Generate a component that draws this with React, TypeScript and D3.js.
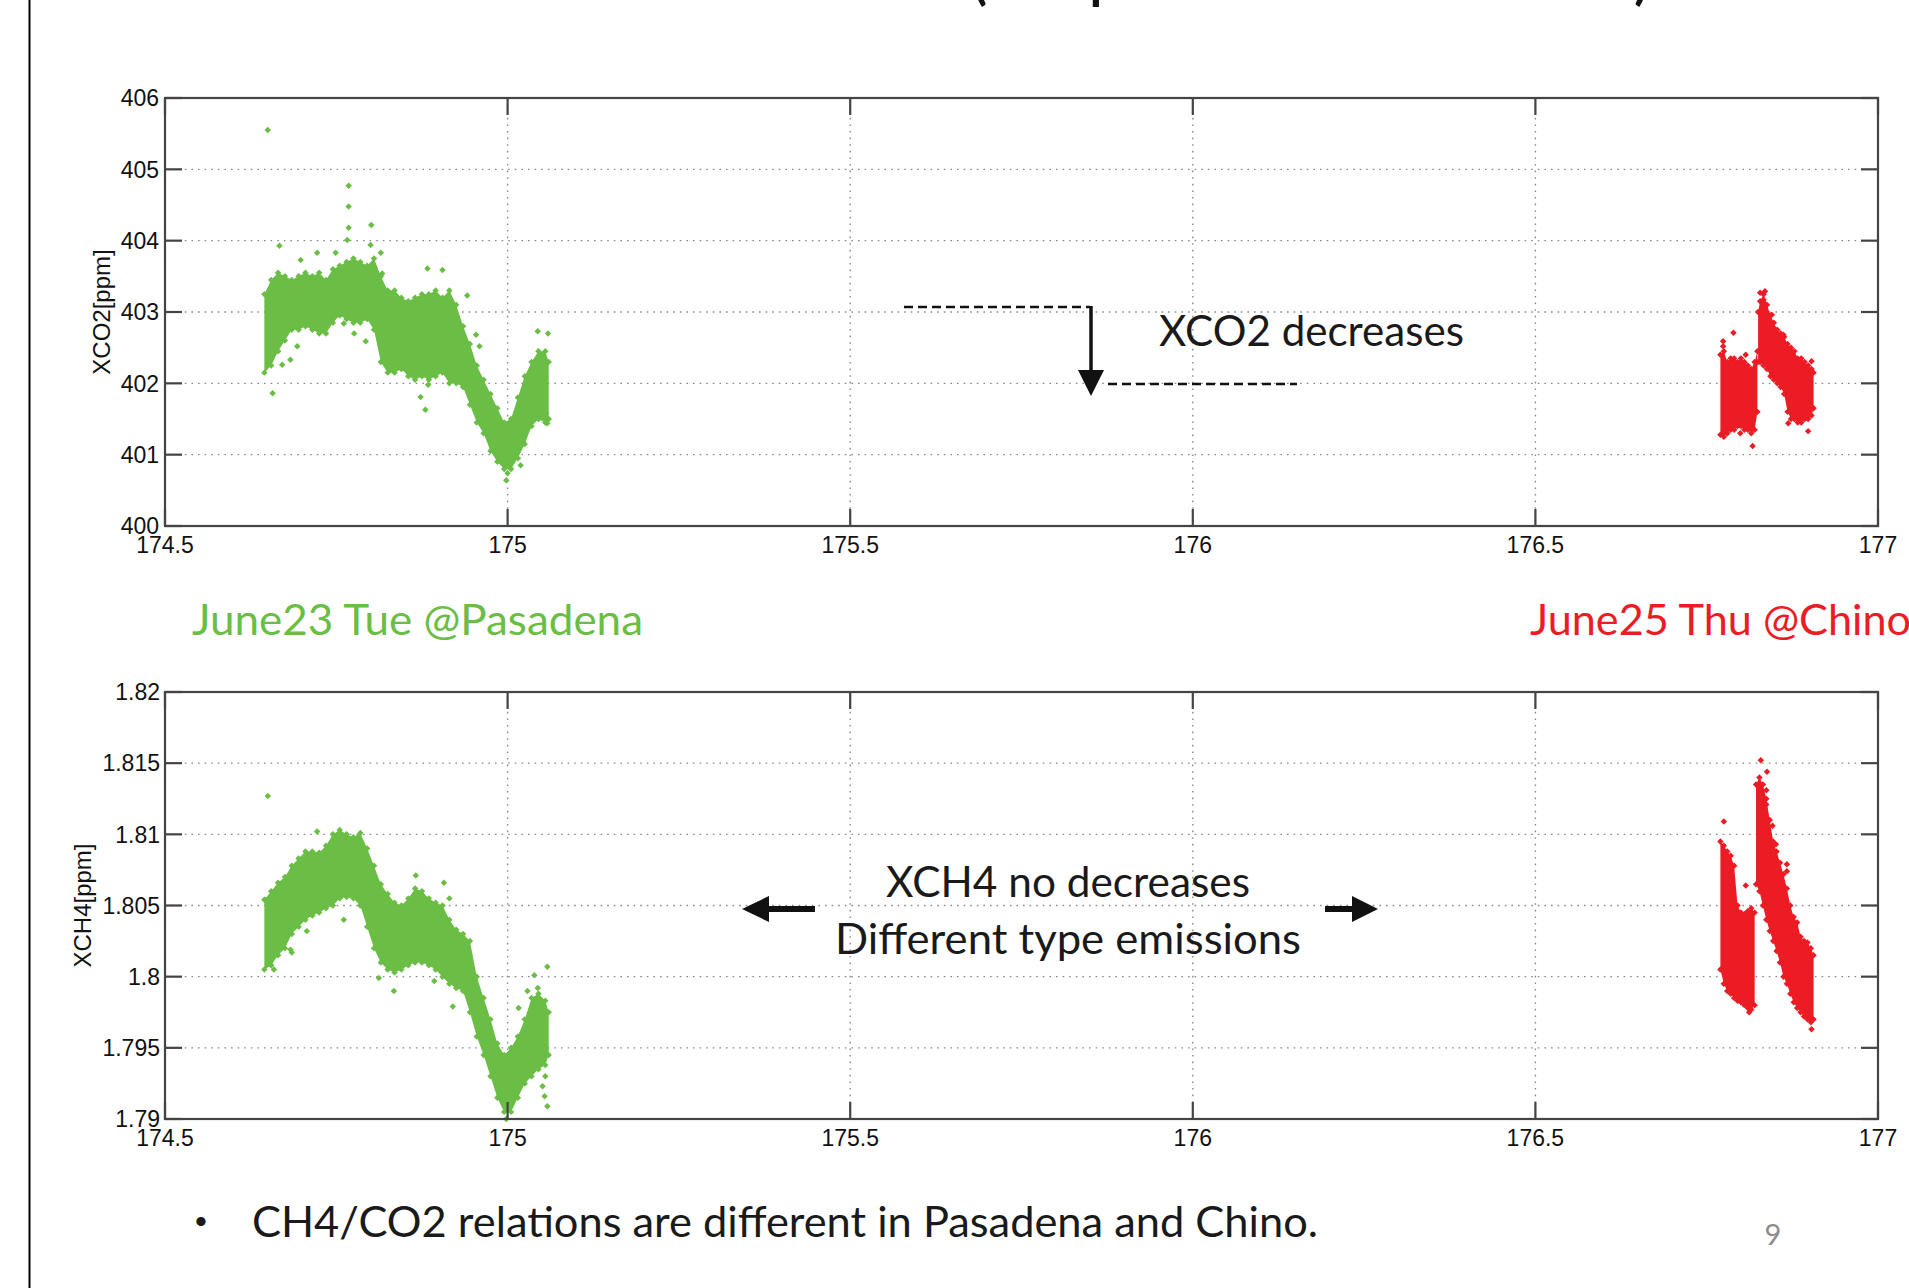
import React from 'react';
import * as d3 from 'd3';

const W = 1909;
const H = 1288;
const GREEN = '#6abd45';
const RED = '#ec1c24';

// ---------- axes ----------
const xDomain = [174.5, 177];
const xTicks = [174.5, 175, 175.5, 176, 176.5, 177];
const xTickLabels = ['174.5', '175', '175.5', '176', '176.5', '177'];
const co2Domain = [400, 406];
const co2Ticks = [400, 401, 402, 403, 404, 405, 406];
const co2TickLabels = ['400', '401', '402', '403', '404', '405', '406'];
const ch4Domain = [1.79, 1.82];
const ch4Ticks = [1.79, 1.795, 1.8, 1.805, 1.81, 1.815, 1.82];
const ch4TickLabels = ['1.79', '1.795', '1.8', '1.805', '1.81', '1.815', '1.82'];

// ---------- XCO2, Pasadena (June 23): dense band [day, low, high] ----------
const co2PasadenaBand = [
  [174.645, 402.15, 403.25], [174.655, 402.25, 403.45], [174.665, 402.45, 403.55],
  [174.675, 402.6, 403.5], [174.685, 402.75, 403.45], [174.695, 402.75, 403.5],
  [174.705, 402.8, 403.55], [174.715, 402.75, 403.5], [174.725, 402.7, 403.55],
  [174.735, 402.7, 403.45], [174.745, 402.85, 403.6], [174.755, 402.95, 403.65],
  [174.765, 402.9, 403.7], [174.775, 402.85, 403.75], [174.785, 402.85, 403.7],
  [174.795, 402.9, 403.65], [174.805, 402.75, 403.75], [174.815, 402.3, 403.5],
  [174.825, 402.15, 403.3], [174.835, 402.15, 403.3], [174.845, 402.2, 403.2],
  [174.855, 402.1, 403.15], [174.865, 402.05, 403.2], [174.875, 402.1, 403.25],
  [174.885, 402.05, 403.25], [174.895, 402.1, 403.3], [174.905, 402.15, 403.2],
  [174.915, 402.0, 403.3], [174.925, 402.0, 403.1], [174.935, 401.95, 402.8],
  [174.945, 401.7, 402.55], [174.955, 401.45, 402.25], [174.965, 401.3, 402.05],
  [174.975, 401.05, 401.85], [174.985, 400.9, 401.65], [174.995, 400.8, 401.45],
  [175.005, 400.8, 401.5], [175.015, 400.95, 401.8], [175.025, 401.15, 402.1],
  [175.035, 401.4, 402.3], [175.045, 401.5, 402.45], [175.055, 401.45, 402.45],
  [175.06, 401.5, 402.3],
];
const co2PasadenaPoints = [
  [174.65, 405.55], [174.657, 401.86], [174.667, 403.93], [174.671, 402.26],
  [174.683, 402.33], [174.693, 402.52], [174.698, 403.73], [174.722, 403.83],
  [174.749, 403.83], [174.768, 404.77], [174.768, 404.48], [174.768, 404.18],
  [174.766, 404.01], [174.761, 402.84], [174.776, 402.7], [174.801, 404.22],
  [174.8, 403.94], [174.815, 403.83], [174.817, 403.54], [174.793, 402.59],
  [174.873, 401.81], [174.88, 401.63], [174.884, 401.98], [174.905, 403.59],
  [174.883, 403.61], [174.941, 403.23], [174.954, 402.68], [174.959, 402.52],
  [175.019, 400.85], [174.998, 400.64], [175.0, 400.74], [175.059, 402.7],
  [175.044, 402.73], [175.058, 401.44], [175.056, 401.58],
];

// ---------- XCO2, Chino (June 25): two lobes ----------
const co2ChinoBandA = [
  [176.77, 401.28, 402.4], [176.775, 401.25, 402.45], [176.78, 401.3, 402.3],
  [176.785, 401.35, 402.35], [176.79, 401.35, 402.35], [176.795, 401.4, 402.3],
  [176.8, 401.4, 402.35], [176.805, 401.35, 402.3], [176.81, 401.35, 402.25],
  [176.815, 401.3, 402.2], [176.82, 401.35, 402.3], [176.824, 401.6, 402.45],
];
const co2ChinoBandB = [
  [176.825, 402.3, 403.0], [176.828, 402.3, 403.15], [176.833, 402.25, 403.25],
  [176.838, 402.2, 403.1], [176.843, 402.1, 402.95], [176.848, 402.05, 402.85],
  [176.853, 402.0, 402.75], [176.858, 401.95, 402.7], [176.863, 401.85, 402.65],
  [176.868, 401.6, 402.55], [176.873, 401.5, 402.5], [176.878, 401.5, 402.45],
  [176.883, 401.45, 402.35], [176.888, 401.45, 402.35], [176.893, 401.5, 402.3],
  [176.898, 401.5, 402.25], [176.903, 401.55, 402.2], [176.906, 401.65, 402.15],
];
const co2ChinoPoints = [
  [176.789, 402.71], [176.774, 402.59], [176.774, 402.52], [176.817, 401.12],
  [176.799, 401.3], [176.807, 402.4], [176.828, 403.27], [176.835, 403.29],
  [176.833, 403.17], [176.862, 402.68], [176.869, 401.44], [176.898, 401.33],
  [176.903, 402.31], [176.845, 402.96],
];

// ---------- XCH4, Pasadena ----------
const ch4PasadenaBand = [
  [174.645, 1.8005, 1.8054], [174.655, 1.8008, 1.806], [174.665, 1.8015, 1.8066],
  [174.675, 1.802, 1.807], [174.685, 1.803, 1.8078], [174.695, 1.8035, 1.8083],
  [174.705, 1.804, 1.8088], [174.715, 1.8043, 1.8088], [174.725, 1.8045, 1.8087],
  [174.735, 1.8048, 1.8092], [174.745, 1.805, 1.81], [174.755, 1.8055, 1.8103],
  [174.765, 1.8056, 1.81], [174.775, 1.8055, 1.8098], [174.785, 1.805, 1.8101],
  [174.795, 1.8035, 1.809], [174.805, 1.802, 1.8078], [174.815, 1.801, 1.8065],
  [174.825, 1.8005, 1.8058], [174.835, 1.8003, 1.8052], [174.845, 1.8005, 1.805],
  [174.855, 1.8008, 1.8055], [174.865, 1.801, 1.8062], [174.875, 1.801, 1.806],
  [174.885, 1.8008, 1.8055], [174.895, 1.8005, 1.8052], [174.905, 1.8, 1.805],
  [174.915, 1.7995, 1.804], [174.925, 1.7992, 1.8033], [174.935, 1.799, 1.803],
  [174.945, 1.7975, 1.8025], [174.955, 1.7958, 1.8], [174.965, 1.7945, 1.7985],
  [174.975, 1.793, 1.797], [174.985, 1.7915, 1.7953], [174.995, 1.7905, 1.7945],
  [175.005, 1.7905, 1.795], [175.015, 1.7915, 1.7958], [175.025, 1.7925, 1.797],
  [175.035, 1.793, 1.7985], [175.045, 1.7935, 1.7988], [175.055, 1.7938, 1.7983],
  [175.06, 1.7945, 1.7975],
];
const ch4PasadenaPoints = [
  [174.65, 1.8127], [174.722, 1.8102], [174.761, 1.804], [174.812, 1.7999],
  [174.834, 1.799], [174.866, 1.8071], [174.907, 1.8066], [174.915, 1.8055],
  [174.92, 1.7979], [174.893, 1.7997], [175.039, 1.8001], [175.058, 1.8007],
  [175.029, 1.799], [175.044, 1.7992], [175.051, 1.7923], [175.054, 1.7916],
  [175.058, 1.7909], [175.055, 1.793], [174.998, 1.79], [175.016, 1.7978],
  [174.683, 1.8019], [174.685, 1.8017], [174.707, 1.8032], [174.659, 1.8005],
  [174.646, 1.8054],
];

// ---------- XCH4, Chino ----------
const ch4ChinoBandA = [
  [176.77, 1.8005, 1.8095], [176.775, 1.7995, 1.8092], [176.78, 1.799, 1.8088],
  [176.785, 1.7988, 1.8085], [176.79, 1.7985, 1.8078], [176.795, 1.7983, 1.805],
  [176.8, 1.7982, 1.8045], [176.805, 1.798, 1.8044], [176.81, 1.7978, 1.8046],
  [176.815, 1.7977, 1.8048], [176.82, 1.798, 1.8045],
];
const ch4ChinoBandB = [
  [176.822, 1.8065, 1.8135], [176.827, 1.806, 1.814], [176.832, 1.805, 1.8135],
  [176.837, 1.804, 1.8125], [176.842, 1.8032, 1.811], [176.847, 1.8025, 1.8095],
  [176.852, 1.8018, 1.8088], [176.857, 1.801, 1.808], [176.862, 1.8, 1.8072],
  [176.867, 1.7995, 1.8062], [176.872, 1.7988, 1.805], [176.877, 1.7982, 1.8042],
  [176.882, 1.7978, 1.8038], [176.887, 1.7975, 1.8028], [176.892, 1.7972, 1.8025],
  [176.897, 1.797, 1.8024], [176.902, 1.7968, 1.802], [176.906, 1.797, 1.8015],
];
const ch4ChinoPoints = [
  [176.829, 1.8152], [176.838, 1.8144], [176.837, 1.8131], [176.837, 1.8121],
  [176.846, 1.8106], [176.775, 1.8109], [176.807, 1.8064], [176.812, 1.7975],
  [176.867, 1.8079], [176.867, 1.8074], [176.851, 1.8093], [176.903, 1.7963],
  [176.794, 1.7987], [176.784, 1.8002],
];

// ---------- layout ----------
const PLOT_L = 165;
const PLOT_R = 1878;
const TICK_LEN = 17;
const AXIS_COLOR = '#444';
const GRID_COLOR = '#8a8a8a';
const CAL = 'Lato, "Open Sans", sans-serif';
const AX_FONT = '"Liberation Sans", Arial, sans-serif';

const markerPath = d3.symbol().type(d3.symbolSquare).size(21)() as string;

type Series = { bands: number[][][]; points: number[][]; color: string };

function Panel(props: {
  top: number;
  bottom: number;
  yDomain: number[];
  yTicks: number[];
  yTickLabels: string[];
  yLabel: string;
  yLabelX: number;
  labelRight: number;
  series: Series[];
}) {
  const { top, bottom, yDomain, yTicks, yTickLabels, yLabel, yLabelX, labelRight, series } = props;
  const x = d3.scaleLinear().domain(xDomain).range([PLOT_L, PLOT_R]);
  const y = d3.scaleLinear().domain(yDomain).range([bottom, top]);
  const area = d3
    .area<number[]>()
    .x((d) => x(d[0]))
    .y0((d) => y(d[1]))
    .y1((d) => y(d[2]));
  const mark = (px: number, py: number, color: string, key: string) => (
    <path key={key} d={markerPath} transform={`translate(${px},${py}) rotate(45)`} fill={color} />
  );
  return (
    <g>
      {/* grid */}
      {xTicks.slice(1, -1).map((t) => (
        <line key={'gx' + t} x1={x(t)} x2={x(t)} y1={top} y2={bottom}
          stroke={GRID_COLOR} strokeWidth={1.4} strokeDasharray="1.6 5" />
      ))}
      {yTicks.slice(1, -1).map((t) => (
        <line key={'gy' + t} x1={PLOT_L} x2={PLOT_R} y1={y(t)} y2={y(t)}
          stroke={GRID_COLOR} strokeWidth={1.4} strokeDasharray="1.6 5" />
      ))}
      {/* data */}
      {series.map((s, si) => (
        <g key={'s' + si}>
          {s.bands.map((b, bi) => (
            <g key={'b' + bi}>
              <path d={area(b as any) as string} fill={s.color} />
              {b.map((d, i) => mark(x(d[0]), y(d[1]), s.color, `lo${bi}-${i}`))}
              {b.map((d, i) => mark(x(d[0]), y(d[2]), s.color, `hi${bi}-${i}`))}
            </g>
          ))}
          {s.points.map((d, i) => mark(x(d[0]), y(d[1]), s.color, 'p' + i))}
        </g>
      ))}
      {/* frame */}
      <rect x={PLOT_L} y={top} width={PLOT_R - PLOT_L} height={bottom - top}
        fill="none" stroke={AXIS_COLOR} strokeWidth={2.2} />
      {xTicks.map((t) => (
        <g key={'tx' + t}>
          <line x1={x(t)} x2={x(t)} y1={bottom} y2={bottom - TICK_LEN} stroke={AXIS_COLOR} strokeWidth={2.2} />
          <line x1={x(t)} x2={x(t)} y1={top} y2={top + TICK_LEN} stroke={AXIS_COLOR} strokeWidth={2.2} />
        </g>
      ))}
      {yTicks.map((t) => (
        <g key={'ty' + t}>
          <line x1={PLOT_L} x2={PLOT_L + TICK_LEN} y1={y(t)} y2={y(t)} stroke={AXIS_COLOR} strokeWidth={2.2} />
          <line x1={PLOT_R} x2={PLOT_R - TICK_LEN} y1={y(t)} y2={y(t)} stroke={AXIS_COLOR} strokeWidth={2.2} />
        </g>
      ))}
      {/* tick labels */}
      {xTicks.map((t, i) => (
        <text key={'lx' + t} x={x(t)} y={bottom + 27} textAnchor="middle"
          fontFamily={AX_FONT} fontSize={23} fill="#111">{xTickLabels[i]}</text>
      ))}
      {yTicks.map((t, i) => (
        <text key={'ly' + t} x={labelRight} y={y(t)} dy="0.36em" textAnchor="end"
          fontFamily={AX_FONT} fontSize={23} fill="#111">{yTickLabels[i]}</text>
      ))}
      <text transform={`translate(${yLabelX},${(top + bottom) / 2}) rotate(-90)`} textAnchor="middle"
        dy="0.36em" fontFamily={AX_FONT} fontSize={24} fill="#111">{yLabel}</text>
    </g>
  );
}

export default function App() {
  return (
    <svg width={W} height={H} viewBox={`0 0 ${W} ${H}`}
      style={{ position: 'absolute', left: 0, top: 0, background: '#fff', display: 'block' }}>
      <rect x={0} y={0} width={W} height={H} fill="#fff" />
      {/* slide edge */}
      <line x1={29.5} x2={29.5} y1={0} y2={H} stroke="#000" strokeWidth={2} />
      {/* clipped slide title (only descenders visible) */}
      <g fontFamily={CAL} fontWeight={700} fontSize={50} fill="#111">
        <text x={980} y={-1} textAnchor="middle">(</text>
        <text x={1104} y={-1} textAnchor="middle">p</text>
        <text x={1641} y={-1} textAnchor="middle">)</text>
      </g>

      <Panel top={98} bottom={526} yDomain={co2Domain} yTicks={co2Ticks} yTickLabels={co2TickLabels}
        yLabel="XCO2[ppm]" yLabelX={101} labelRight={159}
        series={[
          { bands: [co2PasadenaBand], points: co2PasadenaPoints, color: GREEN },
          { bands: [co2ChinoBandA, co2ChinoBandB], points: co2ChinoPoints, color: RED },
        ]} />

      <Panel top={692} bottom={1119} yDomain={ch4Domain} yTicks={ch4Ticks} yTickLabels={ch4TickLabels}
        yLabel="XCH4[ppm]" yLabelX={82} labelRight={160}
        series={[
          { bands: [ch4PasadenaBand], points: ch4PasadenaPoints, color: GREEN },
          { bands: [ch4ChinoBandA, ch4ChinoBandB], points: ch4ChinoPoints, color: RED },
        ]} />

      {/* XCO2 annotation */}
      <line x1={904} x2={1090} y1={307} y2={307} stroke="#111" strokeWidth={2.6} strokeDasharray="9 5" />
      <line x1={1091} x2={1091} y1={306} y2={374} stroke="#111" strokeWidth={3.5} />
      <path d="M1078,370 L1104,370 L1091,396 Z" fill="#111" />
      <line x1={1108} x2={1297} y1={384} y2={384} stroke="#111" strokeWidth={2.6} strokeDasharray="9 5" />
      <text x={1159} y={346} fontFamily={CAL} fontSize={42} fill="#1a1a1a"
        textLength={305} lengthAdjust="spacingAndGlyphs">XCO2 decreases</text>

      {/* site labels */}
      <text x={192} y={635} fontFamily={CAL} fontSize={42} fill={GREEN}
        textLength={451} lengthAdjust="spacingAndGlyphs">June23 Tue @Pasadena</text>
      <text x={1530} y={635} fontFamily={CAL} fontSize={42} fill={RED}
        textLength={381} lengthAdjust="spacingAndGlyphs">June25 Thu @Chino</text>

      {/* XCH4 annotation */}
      <text x={1068} y={897} textAnchor="middle" fontFamily={CAL} fontSize={42} fill="#1a1a1a"
        textLength={364} lengthAdjust="spacingAndGlyphs">XCH4 no decreases</text>
      <text x={1068} y={954} textAnchor="middle" fontFamily={CAL} fontSize={42} fill="#1a1a1a"
        textLength={466} lengthAdjust="spacingAndGlyphs">Different type emissions</text>
      <line x1={768} x2={815} y1={909} y2={909} stroke="#111" strokeWidth={6} />
      <path d="M769,896 L769,922 L742,909 Z" fill="#111" />
      <line x1={1325} x2={1353} y1={909} y2={909} stroke="#111" strokeWidth={6} />
      <path d="M1352,896 L1352,922 L1378,909 Z" fill="#111" />

      {/* footer */}
      <text x={201} y={1233} textAnchor="middle" fontFamily={AX_FONT} fontSize={34} fill="#1a1a1a">•</text>
      <text x={252} y={1237} fontFamily={CAL} fontSize={42} fill="#1a1a1a"
        textLength={1066} lengthAdjust="spacingAndGlyphs">CH4/CO2 relations are different in Pasadena and Chino.</text>
      <text x={1773} y={1245} textAnchor="middle" fontFamily={CAL} fontSize={29} fill="#8c8c8c">9</text>
    </svg>
  );
}
